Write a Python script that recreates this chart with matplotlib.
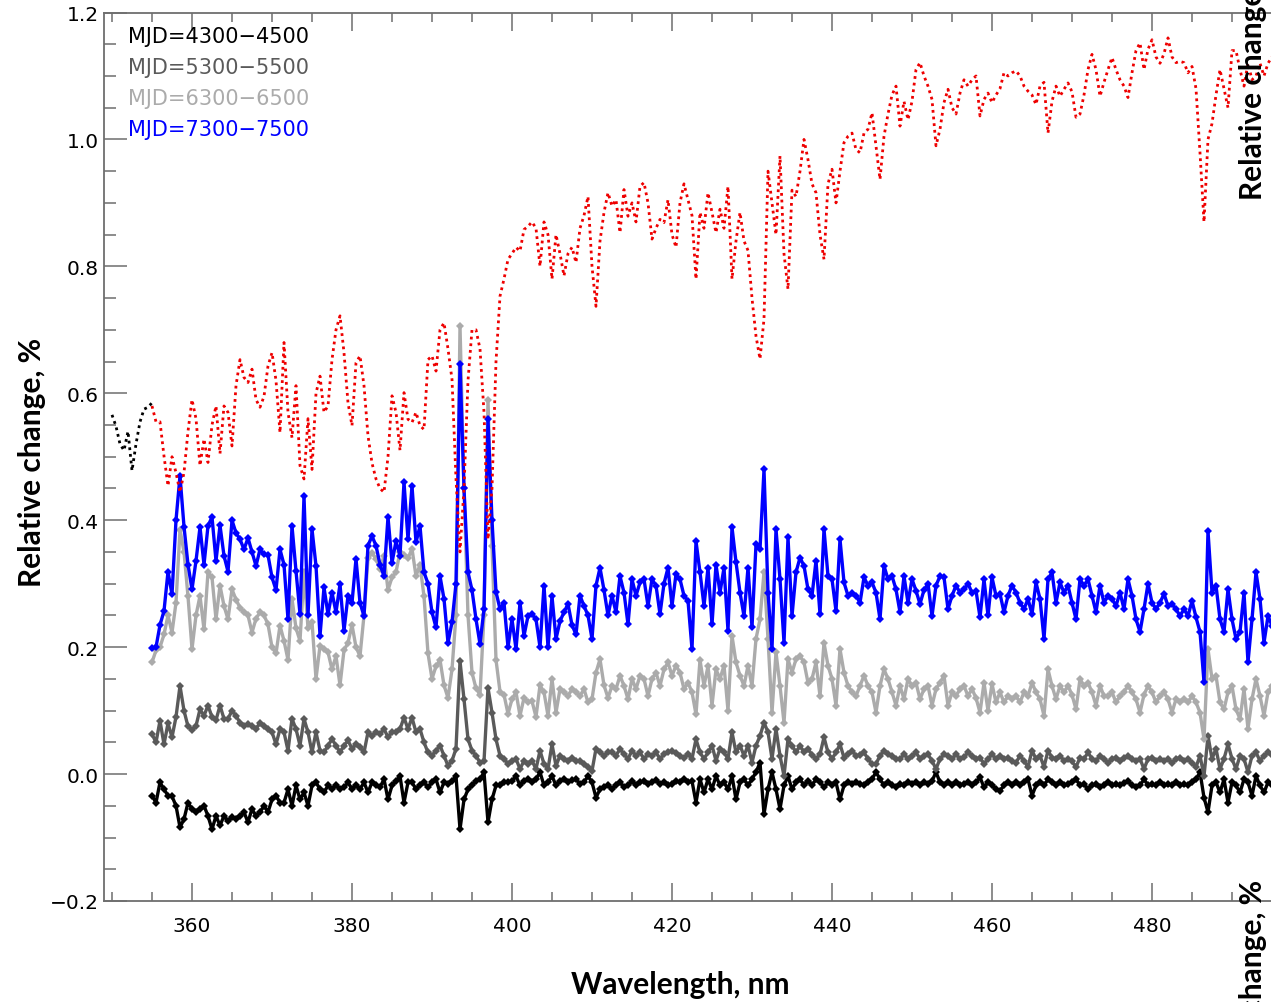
import matplotlib
matplotlib.use("Agg")
import matplotlib.pyplot as plt
from matplotlib.ticker import MultipleLocator, FuncFormatter
import numpy as np

# wavelength grid of the four spectra and of the red reference curve (nm)
wl = np.arange(355.0, 495.01, 0.5)
# short black dotted piece before 355 nm
wl_pre = np.arange(350.0, 355.01, 0.5)

mjd_labels = ["MJD=4300\u22124500", "MJD=5300\u22125500", "MJD=6300\u22126500", "MJD=7300\u22127500"]
mjd_colors = ["black", "#5a5a5a", "#ababab", "#0000ff"]

blue = [
    0.198, 0.200, 0.235, 0.257, 0.319, 0.283, 0.400, 0.470, 0.390, 0.330,
    0.291, 0.336, 0.389, 0.330, 0.391, 0.405, 0.336, 0.392, 0.344, 0.319,
    0.400, 0.380, 0.370, 0.354, 0.372, 0.350, 0.328, 0.354, 0.346, 0.345,
    0.310, 0.290, 0.354, 0.330, 0.244, 0.391, 0.320, 0.252, 0.438, 0.250,
    0.386, 0.328, 0.218, 0.294, 0.252, 0.286, 0.255, 0.299, 0.226, 0.281,
    0.270, 0.339, 0.270, 0.249, 0.360, 0.375, 0.360, 0.330, 0.312, 0.405,
    0.333, 0.367, 0.344, 0.460, 0.370, 0.454, 0.365, 0.391, 0.318, 0.300,
    0.255, 0.231, 0.312, 0.276, 0.207, 0.239, 0.300, 0.646, 0.450, 0.318,
    0.290, 0.244, 0.205, 0.260, 0.559, 0.400, 0.287, 0.260, 0.270, 0.200,
    0.244, 0.197, 0.270, 0.218, 0.249, 0.252, 0.244, 0.200, 0.297, 0.200,
    0.280, 0.213, 0.241, 0.255, 0.268, 0.235, 0.220, 0.281, 0.265, 0.250,
    0.213, 0.297, 0.325, 0.290, 0.250, 0.281, 0.255, 0.312, 0.286, 0.236,
    0.307, 0.281, 0.302, 0.307, 0.265, 0.307, 0.297, 0.252, 0.300, 0.325,
    0.265, 0.315, 0.307, 0.281, 0.273, 0.197, 0.367, 0.318, 0.265, 0.325,
    0.236, 0.330, 0.286, 0.325, 0.226, 0.389, 0.334, 0.286, 0.249, 0.325,
    0.231, 0.362, 0.354, 0.480, 0.286, 0.197, 0.386, 0.307, 0.207, 0.373,
    0.249, 0.318, 0.341, 0.328, 0.291, 0.281, 0.336, 0.252, 0.386, 0.312,
    0.307, 0.257, 0.370, 0.302, 0.281, 0.286, 0.281, 0.270, 0.310, 0.297,
    0.302, 0.286, 0.244, 0.328, 0.307, 0.312, 0.291, 0.255, 0.312, 0.270,
    0.307, 0.289, 0.268, 0.290, 0.300, 0.249, 0.297, 0.312, 0.310, 0.260,
    0.281, 0.297, 0.286, 0.291, 0.300, 0.286, 0.289, 0.247, 0.307, 0.250,
    0.310, 0.281, 0.284, 0.255, 0.281, 0.297, 0.286, 0.270, 0.260, 0.276,
    0.252, 0.302, 0.276, 0.213, 0.307, 0.318, 0.270, 0.302, 0.286, 0.297,
    0.270, 0.244, 0.307, 0.297, 0.307, 0.281, 0.255, 0.297, 0.270, 0.281,
    0.276, 0.265, 0.286, 0.260, 0.307, 0.281, 0.244, 0.224, 0.260, 0.300,
    0.270, 0.260, 0.270, 0.284, 0.265, 0.268, 0.260, 0.249, 0.260, 0.249,
    0.273, 0.247, 0.224, 0.145, 0.383, 0.286, 0.297, 0.244, 0.224, 0.291,
    0.244, 0.213, 0.224, 0.286, 0.176, 0.244, 0.318, 0.276, 0.207, 0.249,
    0.234,
]

light = [
    0.176, 0.195, 0.200, 0.220, 0.250, 0.223, 0.270, 0.385, 0.350, 0.280,
    0.197, 0.250, 0.281, 0.228, 0.318, 0.310, 0.244, 0.297, 0.265, 0.244,
    0.291, 0.275, 0.262, 0.255, 0.250, 0.223, 0.245, 0.255, 0.250, 0.236,
    0.200, 0.190, 0.234, 0.210, 0.180, 0.276, 0.230, 0.210, 0.318, 0.230,
    0.240, 0.150, 0.202, 0.197, 0.192, 0.165, 0.186, 0.140, 0.195, 0.207,
    0.235, 0.200, 0.186, 0.250, 0.340, 0.349, 0.339, 0.323, 0.344, 0.290,
    0.310, 0.318, 0.350, 0.345, 0.340, 0.355, 0.312, 0.330, 0.280, 0.190,
    0.150, 0.170, 0.180, 0.140, 0.120, 0.165, 0.250, 0.706, 0.450, 0.250,
    0.160, 0.135, 0.125, 0.250, 0.590, 0.360, 0.180, 0.130, 0.125, 0.095,
    0.118, 0.129, 0.092, 0.120, 0.113, 0.115, 0.090, 0.140, 0.129, 0.092,
    0.150, 0.097, 0.134, 0.129, 0.123, 0.134, 0.129, 0.123, 0.134, 0.113,
    0.118, 0.160, 0.181, 0.140, 0.120, 0.139, 0.134, 0.155, 0.139, 0.118,
    0.150, 0.134, 0.155, 0.150, 0.123, 0.150, 0.160, 0.139, 0.165, 0.176,
    0.155, 0.171, 0.160, 0.134, 0.144, 0.129, 0.094, 0.180, 0.139, 0.170,
    0.108, 0.165, 0.150, 0.171, 0.100, 0.218, 0.176, 0.155, 0.139, 0.171,
    0.139, 0.213, 0.244, 0.318, 0.213, 0.097, 0.192, 0.139, 0.081, 0.181,
    0.160, 0.181, 0.186, 0.176, 0.144, 0.150, 0.176, 0.123, 0.207, 0.171,
    0.150, 0.108, 0.197, 0.160, 0.139, 0.129, 0.123, 0.139, 0.155, 0.139,
    0.129, 0.097, 0.139, 0.165, 0.150, 0.129, 0.108, 0.139, 0.118, 0.150,
    0.139, 0.144, 0.118, 0.134, 0.139, 0.108, 0.134, 0.144, 0.155, 0.108,
    0.129, 0.123, 0.134, 0.139, 0.123, 0.134, 0.120, 0.097, 0.144, 0.100,
    0.142, 0.113, 0.129, 0.113, 0.123, 0.118, 0.123, 0.113, 0.129, 0.123,
    0.144, 0.129, 0.118, 0.092, 0.165, 0.139, 0.118, 0.139, 0.129, 0.139,
    0.125, 0.102, 0.150, 0.139, 0.144, 0.129, 0.108, 0.139, 0.123, 0.123,
    0.129, 0.113, 0.123, 0.130, 0.139, 0.129, 0.118, 0.097, 0.125, 0.139,
    0.129, 0.113, 0.123, 0.129, 0.118, 0.097, 0.118, 0.113, 0.118, 0.113,
    0.123, 0.113, 0.097, 0.055, 0.197, 0.150, 0.155, 0.113, 0.102, 0.129,
    0.139, 0.102, 0.087, 0.134, 0.071, 0.118, 0.150, 0.123, 0.092, 0.129,
    0.139,
]

dark = [
    0.063, 0.050, 0.084, 0.047, 0.080, 0.058, 0.090, 0.139, 0.100, 0.075,
    0.070, 0.076, 0.102, 0.092, 0.108, 0.090, 0.085, 0.108, 0.087, 0.087,
    0.100, 0.092, 0.081, 0.076, 0.079, 0.075, 0.071, 0.081, 0.076, 0.071,
    0.066, 0.047, 0.071, 0.066, 0.037, 0.087, 0.071, 0.045, 0.087, 0.066,
    0.034, 0.066, 0.037, 0.034, 0.045, 0.055, 0.045, 0.034, 0.045, 0.053,
    0.040, 0.047, 0.042, 0.034, 0.066, 0.060, 0.066, 0.063, 0.071, 0.058,
    0.066, 0.066, 0.071, 0.089, 0.071, 0.089, 0.066, 0.071, 0.050, 0.034,
    0.029, 0.037, 0.045, 0.029, 0.013, 0.021, 0.040, 0.178, 0.118, 0.055,
    0.037, 0.029, 0.018, 0.020, 0.136, 0.097, 0.055, 0.029, 0.024, 0.016,
    0.021, 0.024, 0.008, 0.021, 0.016, 0.021, 0.008, 0.037, 0.016, 0.008,
    0.047, 0.013, 0.029, 0.024, 0.021, 0.026, 0.021, 0.021, 0.016, 0.011,
    0.005, 0.040, 0.034, 0.029, 0.034, 0.034, 0.029, 0.040, 0.031, 0.024,
    0.037, 0.029, 0.034, 0.024, 0.031, 0.029, 0.034, 0.024, 0.031, 0.034,
    0.037, 0.033, 0.029, 0.026, 0.031, 0.024, 0.055, 0.034, 0.024, 0.034,
    0.045, 0.021, 0.040, 0.034, 0.024, 0.066, 0.034, 0.045, 0.029, 0.045,
    0.018, 0.045, 0.060, 0.081, 0.066, 0.024, 0.071, 0.029, -0.003, 0.055,
    0.045, 0.034, 0.045, 0.034, 0.040, 0.030, 0.024, 0.031, 0.058, 0.034,
    0.024, 0.034, 0.047, 0.026, 0.031, 0.037, 0.029, 0.030, 0.034, 0.024,
    0.016, 0.016, 0.029, 0.037, 0.031, 0.028, 0.024, 0.024, 0.031, 0.024,
    0.029, 0.034, 0.024, 0.029, 0.031, 0.021, 0.008, 0.024, 0.031, 0.029,
    0.024, 0.031, 0.024, 0.027, 0.034, 0.028, 0.024, 0.026, 0.016, 0.024,
    0.031, 0.024, 0.029, 0.024, 0.026, 0.021, 0.018, 0.029, 0.021, 0.011,
    0.037, 0.024, 0.029, 0.011, 0.037, 0.026, 0.024, 0.029, 0.021, 0.024,
    0.020, 0.011, 0.026, 0.024, 0.034, 0.024, 0.021, 0.029, 0.024, 0.018,
    0.024, 0.026, 0.021, 0.025, 0.029, 0.024, 0.021, 0.024, 0.008, 0.024,
    0.026, 0.021, 0.024, 0.021, 0.024, 0.018, 0.024, 0.026, 0.021, 0.024,
    0.018, 0.011, 0.029, -0.003, 0.060, 0.024, 0.040, 0.008, 0.024, 0.047,
    0.024, 0.008, 0.029, 0.024, 0.003, 0.029, 0.034, 0.021, 0.029, 0.034,
    0.030,
]

black = [
    -0.034, -0.045, -0.013, -0.024, -0.034, -0.035, -0.050, -0.084, -0.071, -0.045,
    -0.055, -0.060, -0.055, -0.050, -0.066, -0.087, -0.066, -0.081, -0.066, -0.074,
    -0.068, -0.071, -0.066, -0.060, -0.076, -0.055, -0.066, -0.060, -0.050, -0.060,
    -0.040, -0.034, -0.045, -0.045, -0.024, -0.050, -0.018, -0.040, -0.029, -0.050,
    -0.018, -0.013, -0.024, -0.029, -0.018, -0.024, -0.018, -0.024, -0.021, -0.013,
    -0.024, -0.018, -0.024, -0.013, -0.029, -0.013, -0.018, -0.021, -0.008, -0.040,
    -0.018, -0.011, -0.003, -0.045, -0.013, -0.013, -0.024, -0.018, -0.013, -0.021,
    -0.013, -0.008, -0.029, -0.013, -0.016, -0.011, -0.003, -0.087, -0.040, -0.024,
    -0.018, -0.011, -0.008, 0.003, -0.076, -0.040, -0.018, -0.018, -0.013, -0.013,
    -0.011, -0.003, -0.018, -0.011, -0.008, -0.013, -0.008, 0.003, -0.018, -0.013,
    -0.003, -0.018, -0.011, -0.008, -0.013, -0.010, -0.008, -0.016, -0.013, -0.003,
    -0.013, -0.037, -0.024, -0.020, -0.018, -0.024, -0.018, -0.013, -0.021, -0.018,
    -0.011, -0.018, -0.013, -0.011, -0.016, -0.013, -0.010, -0.016, -0.013, -0.018,
    -0.015, -0.011, -0.013, -0.008, -0.013, -0.011, -0.045, -0.008, -0.029, -0.008,
    -0.024, -0.003, -0.018, -0.013, -0.024, -0.003, -0.040, -0.013, -0.008, -0.018,
    -0.008, 0.003, 0.018, -0.063, -0.024, 0.003, -0.024, -0.055, -0.018, -0.003,
    -0.024, -0.013, -0.008, -0.018, -0.011, -0.018, -0.008, -0.013, -0.021, -0.013,
    -0.018, -0.013, -0.040, -0.018, -0.013, -0.016, -0.013, -0.015, -0.018, -0.013,
    -0.008, 0.003, -0.008, -0.018, -0.013, -0.018, -0.021, -0.016, -0.018, -0.013,
    -0.016, -0.013, -0.018, -0.013, -0.016, -0.011, 0.003, -0.013, -0.018, -0.013,
    -0.018, -0.013, -0.018, -0.015, -0.013, -0.018, -0.013, -0.005, -0.021, -0.013,
    -0.018, -0.024, -0.026, -0.018, -0.013, -0.018, -0.013, -0.018, -0.013, -0.008,
    -0.034, -0.018, -0.013, -0.018, -0.008, -0.013, -0.018, -0.013, -0.018, -0.016,
    -0.012, -0.008, -0.018, -0.016, -0.024, -0.018, -0.016, -0.021, -0.018, -0.013,
    -0.018, -0.016, -0.018, -0.014, -0.011, -0.018, -0.021, -0.018, -0.008, -0.018,
    -0.016, -0.018, -0.013, -0.018, -0.016, -0.018, -0.013, -0.018, -0.016, -0.018,
    -0.013, -0.008, 0.003, -0.037, -0.060, -0.018, -0.013, -0.029, -0.008, -0.045,
    -0.013, -0.018, -0.029, -0.008, -0.013, -0.034, -0.003, -0.018, -0.029, -0.013,
    -0.018,
]

red = [
    0.580, 0.555, 0.555, 0.501, 0.454, 0.500, 0.475, 0.444, 0.475, 0.540,
    0.590, 0.560, 0.486, 0.528, 0.491, 0.550, 0.580, 0.505, 0.580, 0.570,
    0.517, 0.612, 0.653, 0.625, 0.617, 0.638, 0.590, 0.578, 0.595, 0.643,
    0.664, 0.620, 0.538, 0.680, 0.570, 0.530, 0.612, 0.486, 0.465, 0.560,
    0.480, 0.600, 0.627, 0.570, 0.580, 0.653, 0.700, 0.722, 0.664, 0.585,
    0.549, 0.648, 0.659, 0.612, 0.533, 0.490, 0.465, 0.450, 0.444, 0.500,
    0.596, 0.570, 0.510, 0.601, 0.559, 0.554, 0.570, 0.549, 0.543, 0.653,
    0.659, 0.635, 0.700, 0.711, 0.670, 0.622, 0.465, 0.350, 0.450, 0.620,
    0.700, 0.700, 0.670, 0.570, 0.370, 0.450, 0.650, 0.753, 0.780, 0.811,
    0.820, 0.830, 0.824, 0.858, 0.863, 0.870, 0.860, 0.800, 0.870, 0.850,
    0.780, 0.850, 0.820, 0.785, 0.820, 0.830, 0.806, 0.860, 0.880, 0.910,
    0.800, 0.737, 0.840, 0.885, 0.916, 0.895, 0.905, 0.853, 0.921, 0.879,
    0.900, 0.870, 0.926, 0.932, 0.900, 0.843, 0.860, 0.874, 0.869, 0.905,
    0.850, 0.830, 0.900, 0.930, 0.905, 0.880, 0.780, 0.885, 0.860, 0.916,
    0.885, 0.853, 0.890, 0.860, 0.926, 0.780, 0.840, 0.885, 0.840, 0.825,
    0.750, 0.690, 0.654, 0.717, 0.950, 0.900, 0.850, 0.974, 0.820, 0.764,
    0.920, 0.910, 0.950, 1.000, 0.968, 0.930, 0.916, 0.850, 0.811, 0.930,
    0.953, 0.900, 0.950, 0.995, 1.005, 1.010, 0.984, 0.979, 1.010, 1.016,
    1.042, 0.990, 0.937, 1.005, 1.040, 1.070, 1.084, 1.021, 1.060, 1.031,
    1.060, 1.110, 1.121, 1.100, 1.084, 1.063, 0.990, 1.016, 1.058, 1.079,
    1.050, 1.040, 1.073, 1.094, 1.084, 1.094, 1.100, 1.037, 1.063, 1.073,
    1.058, 1.070, 1.080, 1.105, 1.100, 1.105, 1.108, 1.100, 1.084, 1.076,
    1.070, 1.055, 1.084, 1.090, 1.010, 1.060, 1.084, 1.068, 1.079, 1.089,
    1.075, 1.035, 1.040, 1.070, 1.110, 1.134, 1.110, 1.068, 1.090, 1.110,
    1.129, 1.110, 1.094, 1.084, 1.066, 1.105, 1.140, 1.152, 1.110, 1.142,
    1.157, 1.130, 1.120, 1.135, 1.160, 1.130, 1.121, 1.123, 1.121, 1.105,
    1.115, 1.080, 0.979, 0.870, 1.000, 1.025, 1.070, 1.110, 1.080, 1.050,
    1.140, 1.140, 1.110, 1.084, 1.120, 1.094, 1.100, 1.120, 1.100, 1.120,
    1.130,
]

red_pre = [0.566, 0.548, 0.520, 0.510, 0.540, 0.478, 0.520, 0.555, 0.575, 0.578, 0.585]

W, H = 1271, 1003
fig = plt.figure(figsize=(W / 100, H / 100), dpi=100)
ax = fig.add_axes([104 / W, 1 - 902 / H, 1 - 104 / W, (902 - 13.5) / H])

# spectra, bottom to top
series = [black, dark, light, blue]
for vals, col in zip(series, mjd_colors):
    ax.plot(wl, vals, color=col, lw=2.4, marker="D", ms=3.6, mew=0, zorder=3)

dots = (0, (1.0, 1.4))
ax.plot(wl, red, color="#ee0000", lw=2.0, ls=dots, zorder=4)
ax.plot(wl_pre, red_pre, color="black", lw=2.0, ls=dots, zorder=4)

ax.set_xlim(349.0, 360 + (W - 192) / 8)
ax.set_ylim(-0.2, 1.2)

ax.xaxis.set_major_locator(MultipleLocator(20))
ax.xaxis.set_minor_locator(MultipleLocator(5))
ax.yaxis.set_major_locator(MultipleLocator(0.2))
ax.yaxis.set_minor_locator(MultipleLocator(0.05))
ax.yaxis.set_major_formatter(FuncFormatter(lambda v, p: ("%.1f" % v).replace("-", "\u2212")))

axcol = "#6e6e6e"
for s in ["left", "bottom", "top"]:
    ax.spines[s].set_color(axcol)
    ax.spines[s].set_linewidth(1.3)
ax.spines["right"].set_visible(False)

ax.tick_params(axis="x", which="both", direction="in", top=True, bottom=True,
               color=axcol, labelsize=14.5, pad=11)
ax.tick_params(axis="x", which="major", length=13, width=1.1)
ax.tick_params(axis="x", which="minor", length=6.5, width=1.1)
ax.tick_params(axis="y", which="both", direction="in", left=True, right=False,
               color=axcol, labelsize=14.5, pad=4)
ax.tick_params(axis="y", which="major", length=16.5, width=1.1)
ax.tick_params(axis="y", which="minor", length=8.5, width=1.1)

# legend as coloured text lines
for i, (lab, col) in enumerate(zip(mjd_labels, mjd_colors)):
    fig.text(128 / W, 1 - (37 + 31 * i) / H, lab, color=col, fontsize=15,
             ha="left", va="center")

lab_font = dict(family="Lato", weight="bold", fontsize=21.5, color="black")
fig.text(680 / W, 1 - 994 / H, "Wavelength, nm", ha="center", va="baseline", **lab_font)
fig.text(41 / W, 1 - 462 / H, "Relative change, %", rotation=90, rotation_mode="anchor",
         ha="center", va="baseline", **lab_font)

# clipped copies of the right-hand axis title
fig.text(1262 / W, 1 - 200 / H, "Relative change, %", rotation=90, rotation_mode="anchor",
         ha="left", va="baseline", **lab_font)
fig.text(1262 / W, 1 - 880 / H, "Relative change, %", rotation=90, rotation_mode="anchor",
         ha="right", va="baseline", **lab_font)

fig.savefig("out.png", dpi=100)
